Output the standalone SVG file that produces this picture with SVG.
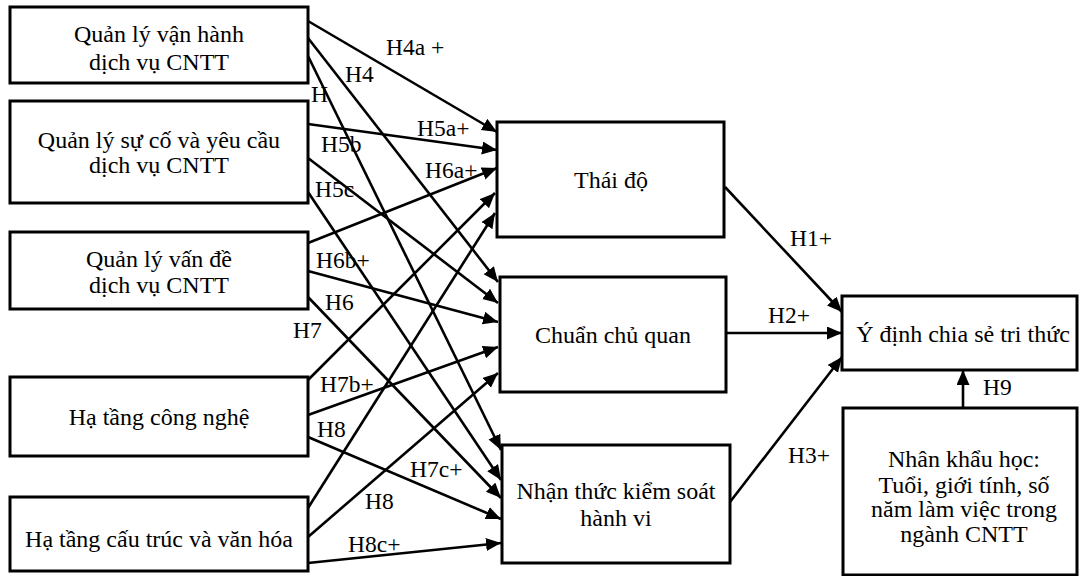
<svg xmlns="http://www.w3.org/2000/svg" width="1080" height="576" viewBox="0 0 1080 576">
<style>
.box{fill:#fff;stroke:#000;stroke-width:3}
.t{font-family:"Liberation Serif","Times New Roman",serif;font-size:24px;fill:#000;text-anchor:middle}
.l{font-family:"Liberation Serif","Times New Roman",serif;font-size:23.5px;fill:#000}
.c{stroke:#000;stroke-width:2.6;fill:none;marker-end:url(#ah)}
</style>
<defs>
<marker id="ah" markerUnits="userSpaceOnUse" markerWidth="16" markerHeight="14" refX="15" refY="6.5" orient="auto">
<path d="M0,0 L15,6.5 L0,13 z" fill="#000"/>
</marker>
</defs>
<rect width="1080" height="576" fill="#fff"/>
<g id="n1"><rect class="box" x="10" y="7" width="298" height="76"/><text class="t" x="159" y="42">Quản lý vận hành</text><text class="t" x="159" y="70">dịch vụ CNTT</text></g>
<g id="n2"><rect class="box" x="10" y="101" width="298" height="102"/><text class="t" x="159" y="148">Quản lý sự cố và yêu cầu</text><text class="t" x="159" y="173">dịch vụ CNTT</text></g>
<g id="n3"><rect class="box" x="10" y="232" width="298" height="77"/><text class="t" x="159" y="267">Quản lý vấn đề</text><text class="t" x="159" y="293">dịch vụ CNTT</text></g>
<g id="n4"><rect class="box" x="10" y="377" width="298" height="79"/><text class="t" x="159" y="425">Hạ tầng công nghệ</text></g>
<g id="n5"><rect class="box" x="10" y="497" width="298" height="74"/><text class="t" x="159" y="547">Hạ tầng cấu trúc và văn hóa</text></g>
<g id="n6"><rect class="box" x="497" y="122" width="227" height="115"/><text class="t" x="611" y="188">Thái độ</text></g>
<g id="n7"><rect class="box" x="500" y="277" width="226" height="115"/><text class="t" x="613" y="343">Chuẩn chủ quan</text></g>
<g id="n8"><rect class="box" x="502" y="445" width="228" height="118"/><text class="t" x="616" y="499">Nhận thức kiểm soát</text><text class="t" x="616" y="526">hành vi</text></g>
<g id="n9"><rect class="box" x="842" y="296" width="235" height="74"/><text class="t" x="963" y="342">Ý định chia sẻ tri thức</text></g>
<g id="n10"><rect class="box" x="843" y="408" width="234" height="167"/><text class="t" x="964" y="467">Nhân khẩu học:</text><text class="t" x="964" y="493">Tuổi, giới tính, số</text><text class="t" x="964" y="517">năm làm việc trong</text><text class="t" x="964" y="542">ngành CNTT</text></g>
<g id="connectors">
<line class="c" x1="308" y1="21" x2="497" y2="132"/>
<line class="c" x1="308" y1="38" x2="498" y2="282"/>
<line class="c" x1="308" y1="56" x2="501" y2="450"/>
<line class="c" x1="308" y1="124" x2="497" y2="150"/>
<line class="c" x1="308" y1="158" x2="498" y2="303"/>
<line class="c" x1="308" y1="192" x2="501" y2="480"/>
<line class="c" x1="308" y1="243" x2="497" y2="168"/>
<line class="c" x1="308" y1="271" x2="498" y2="322"/>
<line class="c" x1="308" y1="297" x2="501" y2="498"/>
<line class="c" x1="308" y1="380" x2="495" y2="193"/>
<line class="c" x1="308" y1="415" x2="498" y2="347"/>
<line class="c" x1="308" y1="437" x2="501" y2="519"/>
<line class="c" x1="308" y1="508" x2="495" y2="213"/>
<line class="c" x1="308" y1="537" x2="498" y2="373"/>
<line class="c" x1="308" y1="563" x2="501" y2="543"/>
<line class="c" x1="725" y1="187" x2="842" y2="312"/>
<line class="c" x1="726" y1="333" x2="842" y2="333"/>
<line class="c" x1="730" y1="502" x2="842" y2="357"/>
<line class="c" x1="963" y1="408" x2="963" y2="370"/>
</g>
<g id="labels">
<text class="l" x="386" y="55">H4a +</text>
<text class="l" x="345" y="82">H4</text>
<text class="l" x="311" y="102">H</text>
<text class="l" x="417" y="136">H5a+</text>
<text class="l" x="321" y="152">H5b</text>
<text class="l" x="425" y="178">H6a+</text>
<text class="l" x="315" y="197">H5c</text>
<text class="l" x="316" y="268">H6b+</text>
<text class="l" x="325" y="310">H6</text>
<text class="l" x="293" y="338">H7</text>
<text class="l" x="320" y="392">H7b+</text>
<text class="l" x="317" y="437">H8</text>
<text class="l" x="410" y="477">H7c+</text>
<text class="l" x="365" y="509">H8</text>
<text class="l" x="348" y="552">H8c+</text>
<text class="l" x="790" y="246">H1+</text>
<text class="l" x="768" y="323">H2+</text>
<text class="l" x="788" y="463">H3+</text>
<text class="l" x="983" y="395">H9</text>
</g>
</svg>
